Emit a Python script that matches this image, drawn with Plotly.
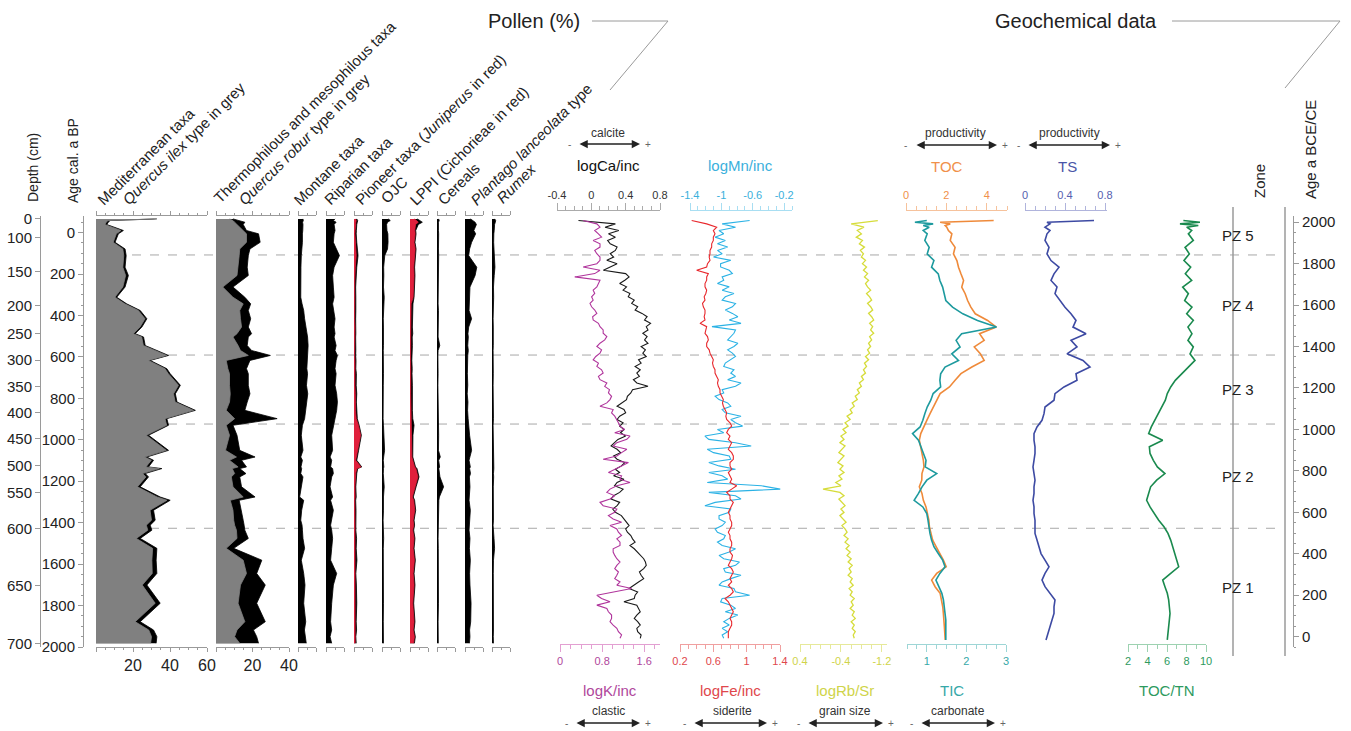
import plotly.graph_objects as go

W, H = 1351, 731
FONT = "Liberation Sans, Arial, Helvetica, sans-serif"

# ---------------- data ----------------
depth_cm = [0, 100, 150, 200, 250, 300, 350, 400, 450, 500, 550, 600, 650, 700]
depth_age_bp = [-66, 23, 189, 354, 489, 615, 744, 868, 993, 1125, 1254, 1430, 1704, 1982]
age_bce_ce_ticks = [0, 200, 400, 600, 800, 1000, 1200, 1400, 1600, 1800, 2000]

zone_names = ["PZ 5", "PZ 4", "PZ 3", "PZ 2", "PZ 1"]
zone_bounds_bp = [108, 591, 924, 1427]

pollen_age = [-66, -58, -50, -39, -10, 6, 47, 79, 111, 167,
              207, 263, 312, 344, 376, 416, 456, 488, 504, 545,
              569, 593, 617, 657, 681, 737, 778, 818, 858, 898,
              930, 978, 1051, 1083, 1099, 1131, 1139, 1163, 1179, 1227,
              1276, 1292, 1340, 1388, 1412, 1436, 1476, 1524, 1581, 1645,
              1701, 1789, 1878, 1918, 1950, 1982]

med_total = [32.9, 7.6, 6.7, 5.8, 14.8, 12.1, 10.3, 15.7, 16.3, 15.7,
             17.5, 15.7, 11.2, 16.6, 23.9, 27.5, 24.8, 21.2, 25.7, 26.6,
             32.9, 39.2, 29.3, 38.3, 40.1, 45.6, 42.9, 43.8, 53.7, 38.3,
             39.2, 28.4, 39.2, 27.5, 31.1, 28.4, 35.6, 26.6, 28.4, 23.9,
             34.7, 40.1, 31.1, 32.0, 29.3, 30.2, 23.9, 32.9, 32.5, 32.9,
             27.5, 34.7, 23.9, 31.1, 32.9, 32.5]
med_quercus_ilex = [31.5, 6.5, 5.5, 4.8, 13.5, 11.0, 9.3, 14.5, 15.0, 14.5,
                    16.0, 14.5, 10.2, 15.6, 22.9, 26.5, 23.8, 20.2, 24.7, 25.6,
                    31.9, 38.2, 28.3, 37.3, 39.1, 44.6, 41.9, 42.8, 52.7, 37.3,
                    38.2, 27.2, 38.0, 26.3, 29.9, 27.0, 34.2, 25.2, 27.0, 22.4,
                    33.0, 38.4, 29.2, 30.0, 27.2, 28.0, 21.8, 30.6, 30.2, 30.4,
                    25.0, 32.0, 21.2, 28.5, 30.0, 29.5]
thermo_total = [9.3, 12.1, 15.8, 14.9, 16.7, 23.3, 24.2, 18.6, 17.7, 17.1,
                17.7, 9.3, 15.8, 19.0, 17.7, 19.0, 17.7, 19.5, 17.7, 17.1,
                19.5, 29.8, 18.6, 16.7, 17.7, 17.7, 18.6, 17.1, 15.8, 33.5,
                9.3, 11.5, 13.0, 21.4, 14.0, 16.7, 13.0, 16.4, 13.0, 14.0,
                21.4, 12.7, 14.0, 14.9, 15.4, 15.8, 17.7, 9.7, 25.1, 22.3,
                27.0, 22.3, 27.0, 20.5, 22.3, 23.3]
thermo_quercus_robur = [7.4, 9.3, 10.2, 11.5, 14.9, 16.7, 16.7, 13.0, 12.7, 12.1,
                        11.5, 3.7, 9.3, 14.9, 13.0, 13.4, 14.0, 11.5, 9.3, 12.1,
                        13.4, 17.7, 5.6, 6.5, 7.4, 7.4, 7.8, 7.4, 5.6, 10.2,
                        5.6, 7.4, 5.2, 11.2, 7.4, 12.1, 8.9, 10.2, 8.4, 9.3,
                        14.9, 7.8, 9.3, 9.7, 10.2, 11.2, 11.5, 5.6, 14.9, 16.7,
                        13.4, 12.1, 15.8, 11.5, 10.2, 13.0]
montane = [2.7, 2.9, 2.5, 2.7, 2.6, 2.4, 2.4, 2.0, 1.8, 1.6,
           1.5, 1.6, 1.5, 2.2, 3.1, 3.6, 4.5, 4.9, 5.2, 5.5,
           5.3, 5.5, 4.9, 4.8, 5.2, 4.6, 5.3, 4.8, 4.4, 3.6,
           2.4, 1.8, 2.7, 1.5, 2.4, 1.6, 2.0, 1.5, 2.7, 1.8,
           0.9, 3.1, 2.0, 1.5, 2.2, 2.4, 2.7, 3.6, 1.8, 3.1,
           3.8, 3.1, 4.2, 3.5, 4.2, 4.5]
riparian = [4.9, 4.0, 5.5, 4.4, 4.9, 4.4, 4.0, 5.8, 7.3, 4.4,
            3.6, 4.0, 4.4, 3.6, 4.0, 4.9, 4.4, 4.9, 4.4, 5.5,
            4.9, 6.2, 5.5, 4.9, 5.5, 4.9, 5.8, 6.2, 5.8, 4.9,
            4.0, 3.1, 3.6, 2.2, 3.1, 2.5, 3.6, 4.0, 3.1, 2.2,
            3.6, 2.5, 4.0, 3.1, 2.5, 3.1, 3.6, 3.1, 2.5, 5.8,
            4.0, 3.1, 2.5, 3.1, 2.2, 3.1]
pioneer_total = [1.5, 2.0, 1.8, 1.5, 1.3, 1.2, 1.5, 1.8, 2.2, 1.5,
                 1.2, 0.9, 1.0, 0.8, 1.0, 0.9, 1.1, 1.0, 0.9, 1.2,
                 1.0, 0.9, 1.1, 1.0, 1.3, 1.2, 1.5, 1.3, 1.6, 1.8,
                 2.8, 4.0, 2.5, 1.8, 1.5, 4.2, 2.0, 1.5, 1.3, 1.0,
                 1.2, 0.9, 1.1, 1.0, 1.2, 1.0, 1.4, 1.2, 1.6, 1.0,
                 1.3, 1.5, 1.2, 1.4, 1.0, 1.2]
pioneer_juniperus = [0.8, 1.2, 1.0, 0.8, 0.6, 0.5, 0.7, 0.9, 1.2, 0.7,
                     0.5, 0.3, 0.4, 0.3, 0.4, 0.3, 0.5, 0.4, 0.3, 0.5,
                     0.4, 0.3, 0.5, 0.4, 0.6, 0.5, 0.7, 0.6, 0.8, 1.2,
                     2.4, 3.6, 2.1, 1.3, 0.9, 3.8, 1.5, 0.9, 0.7, 0.5,
                     0.6, 0.4, 0.5, 0.5, 0.6, 0.5, 0.7, 0.6, 0.9, 0.5,
                     0.7, 0.8, 0.6, 0.7, 0.5, 0.6]
ojc = [3.5, 4.5, 3.0, 2.5, 2.7, 3.2, 3.3, 3.0, 1.5, 0.9,
       1.0, 0.8, 1.2, 1.0, 0.8, 0.7, 0.8, 0.9, 0.7, 0.8,
       0.7, 0.8, 0.6, 0.7, 0.8, 0.7, 0.6, 0.8, 0.7, 0.6,
       0.8, 1.0, 1.4, 0.9, 0.7, 1.0, 0.8, 0.7, 0.9, 1.2,
       0.8, 0.7, 0.8, 0.6, 0.7, 0.8, 0.9, 0.7, 0.8, 0.7,
       0.9, 0.8, 0.7, 0.6, 0.7, 0.8]
lppi_total = [4.0, 5.5, 6.7, 4.5, 3.1, 3.3, 2.7, 3.3, 2.9, 2.5,
              2.7, 2.4, 2.2, 1.6, 1.4, 1.2, 1.3, 1.5, 1.2, 1.3,
              1.1, 1.2, 1.0, 1.2, 1.1, 1.3, 1.2, 1.4, 1.3, 1.5,
              2.2, 1.6, 1.8, 1.5, 2.0, 3.0, 3.8, 4.5, 4.9, 3.3,
              1.8, 2.5, 3.1, 2.2, 2.5, 2.0, 2.7, 2.2, 2.9, 2.2,
              2.7, 2.0, 2.7, 2.2, 2.9, 2.4]
lppi_cichorieae = [2.5, 3.5, 4.5, 3.0, 2.6, 2.8, 2.2, 2.8, 2.4, 2.0,
                   2.2, 1.9, 1.7, 0.6, 0.5, 0.4, 0.4, 0.5, 0.4, 0.4,
                   0.3, 0.4, 0.3, 0.4, 0.3, 0.4, 0.4, 0.5, 0.4, 0.5,
                   0.8, 0.8, 1.2, 1.0, 1.5, 2.5, 3.2, 3.9, 4.3, 2.8,
                   1.3, 2.0, 2.6, 1.7, 2.0, 1.5, 2.2, 1.7, 2.4, 1.7,
                   2.2, 1.5, 2.2, 1.7, 2.4, 1.9]
cereals = [0.9, 1.2, 0.8, 0.7, 0.8, 0.9, 0.7, 0.8, 0.9, 0.8,
           0.7, 0.6, 0.7, 0.6, 0.8, 0.7, 0.6, 0.7, 0.6, 1.5,
           0.6, 0.5, 0.6, 0.5, 0.6, 0.5, 0.6, 0.7, 0.6, 0.8,
           0.7, 0.9, 0.8, 1.8, 0.9, 1.4, 1.0, 1.2, 1.6, 3.6,
           1.3, 1.0, 0.8, 0.7, 0.8, 0.7, 0.6, 0.7, 0.8, 0.6,
           0.7, 0.8, 0.6, 0.7, 0.6, 0.7]
plantago = [3.0, 4.5, 5.5, 6.2, 4.8, 5.8, 3.6, 2.5, 2.0, 6.4,
            5.5, 2.7, 2.5, 2.0, 2.2, 3.6, 2.0, 1.6, 1.8, 1.5,
            1.8, 1.5, 1.4, 1.6, 1.3, 1.5, 1.2, 1.6, 1.4, 1.7,
            2.0, 2.5, 3.6, 2.9, 2.2, 2.9, 2.5, 3.0, 2.4, 2.7,
            2.5, 2.2, 2.9, 2.4, 2.5, 2.2, 2.7, 2.4, 2.9, 2.5,
            2.7, 3.3, 3.1, 2.5, 2.7, 2.4]
rumex = [1.5, 2.0, 1.8, 1.4, 1.2, 1.0, 0.9, 1.1, 0.9, 1.6,
         1.2, 0.8, 0.9, 0.7, 0.8, 0.6, 0.7, 0.8, 0.6, 0.7,
         0.6, 0.7, 0.8, 0.6, 0.7, 0.6, 0.7, 0.6, 0.7, 0.8,
         0.6, 0.7, 1.1, 0.9, 0.8, 0.9, 1.0, 0.8, 0.9, 0.7,
         0.8, 0.9, 0.7, 0.8, 0.6, 0.9, 1.1, 1.4, 0.8, 0.7,
         0.8, 0.9, 0.7, 0.8, 0.7, 0.8]

xrf_age = [-58, -42, -26, -10, 6, 22, 38, 54, 70, 86,
           102, 118, 134, 150, 166, 182, 198, 214, 230, 246,
           262, 278, 294, 310, 326, 342, 358, 374, 390, 406,
           422, 438, 454, 470, 486, 502, 518, 534, 550, 566,
           582, 598, 614, 630, 646, 662, 678, 694, 710, 726,
           742, 758, 774, 790, 806, 822, 838, 854, 870, 886,
           902, 918, 934, 950, 966, 982, 998, 1014, 1030, 1046,
           1062, 1078, 1094, 1110, 1126, 1142, 1158, 1174, 1190, 1206,
           1222, 1238, 1254, 1270, 1286, 1302, 1318, 1334, 1350, 1366,
           1382, 1398, 1414, 1430, 1446, 1462, 1478, 1494, 1510, 1526,
           1542, 1558, 1574, 1590, 1606, 1622, 1638, 1654, 1670, 1686,
           1702, 1718, 1734, 1750, 1766, 1782, 1798, 1814, 1830, 1846,
           1862, 1878, 1894, 1910, 1926, 1942, 1958]
log_ca_inc = [-0.15, 0.28, 0.16, 0.32, 0.20, 0.28, 0.19, 0.22, 0.30, 0.28,
              0.22, 0.26, 0.18, 0.30, 0.22, 0.14, 0.40, 0.44, 0.39, 0.33,
              0.41, 0.37, 0.45, 0.43, 0.50, 0.47, 0.54, 0.51, 0.59, 0.65,
              0.62, 0.69, 0.64, 0.66, 0.60, 0.65, 0.62, 0.66, 0.58, 0.63,
              0.60, 0.64, 0.55, 0.58, 0.51, 0.57, 0.53, 0.56, 0.49, 0.53,
              0.66, 0.48, 0.46, 0.42, 0.41, 0.35, 0.30, 0.38, 0.40, 0.33,
              0.30, 0.37, 0.33, 0.38, 0.34, 0.40, 0.31, 0.27, 0.23, 0.30,
              0.34, 0.26, 0.30, 0.39, 0.35, 0.28, 0.33, 0.26, 0.38, 0.30,
              0.27, 0.37, 0.33, 0.26, 0.23, 0.33, 0.30, 0.25, 0.28, 0.35,
              0.38, 0.41, 0.44, 0.40, 0.42, 0.46, 0.48, 0.51, 0.45, 0.50,
              0.54, 0.58, 0.61, 0.63, 0.64, 0.61, 0.56, 0.58, 0.61, 0.55,
              0.50, 0.44, 0.54, 0.51, 0.50, 0.38, 0.53, 0.55, 0.57, 0.53,
              0.50, 0.54, 0.57, 0.53, 0.54, 0.58, 0.57]
log_k_inc = [0.44, 0.70, 0.76, 0.66, 0.73, 0.79, 0.63, 0.76, 0.76, 0.66,
             0.70, 0.76, 0.76, 0.70, 0.44, 0.76, 0.66, 0.28, 0.76, 0.73,
             0.70, 0.63, 0.66, 0.60, 0.63, 0.57, 0.60, 0.66, 0.70, 0.62,
             0.63, 0.73, 0.76, 0.82, 0.82, 0.89, 0.85, 0.76, 0.70, 0.79,
             0.76, 0.68, 0.63, 0.73, 0.70, 0.79, 0.82, 0.73, 0.76, 0.89,
             0.85, 0.94, 0.92, 0.98, 0.95, 0.89, 0.76, 1.01, 0.98, 1.04,
             1.08, 1.11, 1.14, 1.23, 1.04, 1.33, 1.27, 1.08, 1.01, 1.27,
             1.17, 1.08, 0.82, 1.30, 1.17, 1.04, 0.92, 1.17, 1.14, 1.33,
             1.08, 0.95, 0.89, 1.04, 0.95, 0.76, 0.82, 1.08, 1.04, 0.92,
             1.01, 1.17, 0.95, 1.08, 1.11, 1.17, 1.08, 1.14, 1.14, 1.01,
             1.01, 1.04, 1.08, 1.14, 1.08, 1.04, 1.11, 1.08, 1.04, 1.14,
             1.08, 1.36, 1.01, 0.70, 0.79, 0.95, 0.70, 0.89, 0.92, 0.98,
             0.98, 0.95, 1.01, 1.08, 1.11, 1.17, 1.14]
log_mn_inc = [-0.64, -0.99, -0.82, -1.03, -0.97, -1.08, -0.95, -1.05, -0.92, -1.05,
              -0.99, -1.10, -0.88, -1.01, -1.01, -0.90, -0.86, -0.99, -0.97, -1.05,
              -0.90, -0.99, -0.84, -0.95, -0.99, -0.82, -0.86, -0.95, -0.86, -0.79,
              -0.90, -0.75, -1.12, -0.82, -0.84, -0.88, -0.92, -0.79, -0.84, -0.92,
              -0.86, -0.82, -0.88, -0.95, -0.97, -0.84, -0.88, -0.82, -0.92, -0.75,
              -0.82, -0.99, -0.97, -1.08, -1.03, -0.92, -0.88, -0.99, -0.95, -0.75,
              -0.88, -0.82, -0.73, -1.05, -0.97, -1.21, -1.16, -0.82, -0.62, -1.18,
              -1.10, -0.90, -0.88, -1.16, -1.03, -0.82, -1.16, -0.99, -0.92, -1.18,
              -0.49, -0.25, -1.16, -0.82, -0.75, -1.08, -1.21, -0.88, -0.90, -1.03,
              -1.03, -0.95, -0.99, -1.08, -1.05, -0.95, -0.97, -1.05, -0.99, -0.82,
              -0.90, -1.03, -0.97, -0.77, -0.82, -0.97, -0.95, -0.75, -0.88, -0.99,
              -1.03, -0.84, -0.82, -0.64, -0.99, -1.01, -0.88, -0.82, -0.95, -0.79,
              -0.90, -0.97, -0.90, -0.99, -0.92, -0.99, -0.97]
log_fe_inc = [0.34, 0.52, 0.64, 0.60, 0.62, 0.60, 0.60, 0.58, 0.58, 0.56,
              0.56, 0.55, 0.56, 0.53, 0.52, 0.40, 0.54, 0.52, 0.52, 0.50,
              0.50, 0.52, 0.51, 0.49, 0.50, 0.47, 0.48, 0.50, 0.50, 0.49,
              0.50, 0.44, 0.52, 0.51, 0.50, 0.53, 0.54, 0.52, 0.52, 0.55,
              0.56, 0.58, 0.60, 0.59, 0.60, 0.62, 0.62, 0.64, 0.66, 0.65,
              0.66, 0.68, 0.68, 0.70, 0.72, 0.71, 0.72, 0.74, 0.76, 0.75,
              0.76, 0.80, 0.82, 0.78, 0.76, 0.80, 0.78, 0.82, 0.80, 0.78,
              0.82, 0.84, 0.84, 0.80, 0.80, 0.82, 0.78, 0.80, 0.82, 0.80,
              0.88, 0.82, 0.76, 0.80, 0.80, 0.84, 0.82, 0.80, 0.78, 0.80,
              0.80, 0.82, 0.82, 0.80, 0.78, 0.80, 0.80, 0.82, 0.82, 0.80,
              0.80, 0.83, 0.82, 0.80, 0.78, 0.82, 0.84, 0.82, 0.80, 0.82,
              0.78, 0.82, 0.84, 0.80, 0.74, 0.78, 0.80, 0.83, 0.84, 0.82,
              0.80, 0.82, 0.82, 0.80, 0.78, 0.78, 0.78]
log_rb_sr = [-1.12, -0.60, -0.85, -0.72, -0.80, -0.70, -0.82, -0.76, -0.86, -0.78,
             -0.84, -0.80, -0.88, -0.82, -0.90, -0.84, -0.92, -0.86, -0.94, -0.88,
             -0.92, -0.98, -0.90, -0.96, -1.00, -0.92, -0.98, -1.02, -0.94, -1.00,
             -1.04, -0.96, -1.02, -0.98, -1.04, -0.96, -1.00, -0.94, -0.98, -0.92,
             -0.96, -0.88, -0.94, -0.86, -0.90, -0.84, -0.88, -0.80, -0.84, -0.76,
             -0.80, -0.72, -0.76, -0.68, -0.72, -0.62, -0.66, -0.58, -0.62, -0.52,
             -0.58, -0.48, -0.54, -0.44, -0.50, -0.40, -0.46, -0.38, -0.48, -0.42,
             -0.36, -0.46, -0.40, -0.34, -0.44, -0.38, -0.46, -0.36, -0.42, -0.30,
             -0.40, -0.05, -0.38, -0.46, -0.36, -0.42, -0.48, -0.40, -0.46, -0.38,
             -0.44, -0.50, -0.42, -0.48, -0.52, -0.46, -0.54, -0.48, -0.56, -0.50,
             -0.58, -0.52, -0.60, -0.54, -0.62, -0.56, -0.60, -0.54, -0.62, -0.58,
             -0.64, -0.56, -0.62, -0.58, -0.66, -0.60, -0.64, -0.58, -0.66, -0.62,
             -0.68, -0.60, -0.66, -0.62, -0.68, -0.64, -0.66]

bulk_age = [-58, -50, -42, -34, -26, -10, 6, 38, 71, 103,
            135, 167, 199, 231, 263, 295, 328, 360, 392, 424,
            456, 488, 520, 552, 585, 617, 649, 681, 713, 745,
            777, 809, 842, 874, 906, 938, 970, 1002, 1034, 1066,
            1099, 1131, 1163, 1195, 1227, 1259, 1292, 1324, 1356, 1388,
            1420, 1452, 1484, 1516, 1549, 1581, 1613, 1645, 1677, 1709,
            1741, 1773, 1806, 1838, 1870, 1902, 1934, 1966]
toc = [4.34, 1.69, 2.19, 1.94, 2.02, 2.10, 2.27, 2.19, 2.43, 2.35,
       2.52, 2.60, 2.72, 2.85, 2.76, 2.93, 3.05, 3.21, 3.43, 4.04,
       4.47, 3.64, 3.87, 3.38, 3.68, 3.87, 3.26, 2.72, 2.43, 2.15,
       1.69, 1.52, 1.32, 1.19, 1.03, 0.86, 0.73, 0.66, 0.73, 0.79,
       0.86, 0.89, 0.79, 0.78, 0.66, 0.79, 0.86, 0.99, 1.06, 1.13,
       1.16, 1.23, 1.32, 1.49, 1.69, 1.85, 1.99, 1.52, 1.27, 1.44,
       1.69, 1.77, 1.82, 1.85, 1.89, 1.90, 1.92, 1.94]
tic = [1.00, 0.70, 1.16, 0.91, 1.06, 0.91, 1.01, 0.95, 1.06, 1.01,
       1.18, 1.12, 1.29, 1.33, 1.40, 1.43, 1.48, 1.65, 1.91, 2.28,
       2.76, 1.88, 1.74, 1.84, 1.63, 1.80, 1.46, 1.35, 1.33, 1.35,
       1.16, 1.10, 1.01, 0.95, 0.90, 0.83, 0.64, 0.79, 0.85, 0.91,
       0.98, 0.96, 1.25, 1.00, 0.88, 0.79, 0.68, 0.90, 1.00, 1.03,
       1.05, 1.08, 1.12, 1.18, 1.29, 1.40, 1.46, 1.33, 1.23, 1.30,
       1.38, 1.42, 1.44, 1.46, 1.48, 1.48, 1.48, 1.48]
ts = [0.69, 0.22, 0.25, 0.22, 0.20, 0.25, 0.22, 0.20, 0.24, 0.22,
      0.26, 0.34, 0.29, 0.26, 0.32, 0.30, 0.35, 0.40, 0.46, 0.51,
      0.48, 0.61, 0.46, 0.52, 0.42, 0.58, 0.65, 0.51, 0.52, 0.39,
      0.30, 0.29, 0.20, 0.19, 0.17, 0.12, 0.09, 0.09, 0.10, 0.10,
      0.09, 0.08, 0.09, 0.10, 0.09, 0.09, 0.08, 0.09, 0.09, 0.10,
      0.10, 0.10, 0.12, 0.14, 0.16, 0.20, 0.24, 0.20, 0.17, 0.20,
      0.25, 0.30, 0.29, 0.29, 0.27, 0.25, 0.23, 0.21]
toc_tn = [7.68, 9.38, 7.33, 9.21, 8.02, 8.53, 8.19, 8.70, 7.85, 8.29,
          7.74, 8.43, 7.88, 8.53, 7.61, 8.19, 7.81, 8.56, 8.02, 8.70,
          8.15, 8.56, 8.15, 8.70, 8.36, 8.87, 8.19, 7.54, 6.85, 6.38,
          6.03, 5.83, 5.45, 5.15, 4.80, 4.39, 4.12, 5.56, 4.19, 4.26,
          4.60, 5.01, 5.79, 4.94, 4.32, 4.12, 3.91, 4.26, 4.67, 5.15,
          5.69, 6.10, 6.38, 6.58, 6.79, 6.99, 7.20, 6.38, 5.56, 5.79,
          6.03, 6.17, 6.24, 6.31, 6.24, 6.17, 6.10, 6.03]

# ---------------- helpers ----------------
def fx(p):
    return p / W


def fy(p):
    return 1 - p / H


AGE_RANGE = [2000, -80]
Y_TOP, Y_BOT = 216, 647

fig = go.Figure()
lay = {}


def axname(i):
    return "x" if i == 1 else f"x{i}"


def axkey(i):
    return "xaxis" if i == 1 else f"xaxis{i}"


# ---------------- pollen panels ----------------
BLACK, GREY, RED = "#000000", "#808080", "#e0203c"
pollen_panels = [
    (1, 96, 111, 60, [0, 20, 40, 60], ["", "20", "40", "60"], [(med_total, BLACK), (med_quercus_ilex, GREY)]),
    (2, 216, 73, 40, [0, 20, 40], ["", "20", "40"], [(thermo_total, BLACK), (thermo_quercus_robur, GREY)]),
    (3, 298, 18.4, 10, [0, 10], ["", ""], [(montane, BLACK)]),
    (4, 326, 18.4, 10, [0, 10], ["", ""], [(riparian, BLACK)]),
    (5, 354, 18.4, 10, [0, 10], ["", ""], [(pioneer_total, BLACK), (pioneer_juniperus, RED)]),
    (6, 382, 18.4, 10, [0, 10], ["", ""], [(ojc, BLACK)]),
    (7, 410, 18.4, 10, [0, 10], ["", ""], [(lppi_total, BLACK), (lppi_cichorieae, RED)]),
    (8, 437, 18.4, 10, [0, 10], ["", ""], [(cereals, BLACK)]),
    (9, 465, 18.4, 10, [0, 10], ["", ""], [(plantago, BLACK)]),
    (10, 492, 18.4, 10, [0, 10], ["", ""], [(rumex, BLACK)]),
]
for idx, left, width, xmax, tv, tt, series in pollen_panels:
    lay[axkey(idx)] = dict(
        domain=[fx(left), fx(left + width)], range=[0, xmax], anchor="y", side="bottom",
        showline=True, linecolor="#9a9a9a", linewidth=1, mirror="ticks",
        ticks="outside", ticklen=4, tickcolor="#9a9a9a", tickvals=tv, ticktext=tt,
        tickfont=dict(size=16, color="#222", family=FONT),
        minor=dict(dtick=5, ticklen=2, ticks="outside", tickcolor="#9a9a9a"),
        showgrid=False, zeroline=False, fixedrange=True, automargin=False,
    )
    for vals, col in series:
        fig.add_trace(go.Scatter(
            x=vals, y=pollen_age, xaxis=axname(idx), yaxis="y", mode="lines",
            fill="tozerox", fillcolor=col, line=dict(color=col, width=0.8),
            hoverinfo="skip", showlegend=False))

# ---------------- geochemical panels ----------------
geo_axes = [
    (11, 557, 660, [-0.4, 0.8], [-0.4, 0, 0.4, 0.8], ["-0.4", "0", "0.4", "0.8"], "top", 0.1, "#ababab", "#333333"),
    (12, 560, 660, [0, 1.9], [0, 0.8, 1.6], ["0", "0.8", "1.6"], "bottom", 0.2, "#e3a0d2", "#b0479c"),
    (13, 690, 792, [-1.4, -0.1], [-1.4, -1, -0.6, -0.2], ["-1.4", "-1", "-0.6", "-0.2"], "top", 0.1, "#a8def2", "#3bb0dc"),
    (14, 680, 780, [0.2, 1.4], [0.2, 0.6, 1, 1.4], ["0.2", "0.6", "1", "1.4"], "bottom", 0.1, "#f0a0a0", "#e0474c"),
    (15, 800, 887, [0.4, -1.3], [0.4, -0.4, -1.2], ["0.4", "-0.4", "-1.2"], "bottom", 0.2, "#e6e99a", "#cfd44a"),
    (16, 906, 1007, [0, 5], [0, 2, 4], ["0", "2", "4"], "top", 0.5, "#f6c29c", "#f0904a"),
    (17, 907, 1006, [0.5, 3], [1, 2, 3], ["1", "2", "3"], "bottom", 0.25, "#9ed6d6", "#36a8a8"),
    (18, 1025, 1107, [0, 0.82], [0, 0.4, 0.8], ["0", "0.4", "0.8"], "top", 0.1, "#b0b4dc", "#5560b0"),
    (19, 1128, 1206, [2, 10], [2, 4, 6, 8, 10], ["2", "4", "6", "8", "10"], "bottom", 1, "#9dd2b1", "#2e9a5e"),
]
for idx, x0, x1, rng, tv, tt, side, mdt, lc, fc in geo_axes:
    lay[axkey(idx)] = dict(
        domain=[fx(x0), fx(x1)], range=rng, anchor="free",
        position=fy(210) if side == "top" else fy(644), side=side,
        showline=True, linecolor=lc, linewidth=1, ticks="outside", ticklen=7, tickcolor=lc,
        tickvals=tv, ticktext=tt, tickfont=dict(size=11, color=fc, family=FONT),
        minor=dict(dtick=mdt, ticklen=4, ticks="outside", tickcolor=lc),
        showgrid=False, zeroline=False, fixedrange=True, automargin=False,
    )

geo_traces = [
    (12, log_k_inc, xrf_age, "#b0359c", 1.1),
    (11, log_ca_inc, xrf_age, "#1a1a1a", 1.1),
    (13, log_mn_inc, xrf_age, "#2bb2e5", 1.1),
    (14, log_fe_inc, xrf_age, "#e8282d", 1.1),
    (15, log_rb_sr, xrf_age, "#d6dc3a", 1.3),
    (17, tic, bulk_age, "#1d9a9e", 1.6),
    (16, toc, bulk_age, "#ef8a3a", 1.6),
    (18, ts, bulk_age, "#3d4aa3", 1.6),
    (19, toc_tn, bulk_age, "#1a8a4e", 1.6),
]
for idx, vals, ages, col, lw in geo_traces:
    fig.add_trace(go.Scatter(
        x=vals, y=ages, xaxis=axname(idx), yaxis="y", mode="lines",
        line=dict(color=col, width=lw), hoverinfo="skip", showlegend=False))

# invisible carriers for the extra vertical axes
fig.add_trace(go.Scatter(x=[0] * len(depth_age_bp), y=depth_age_bp, xaxis="x", yaxis="y2",
                         mode="markers", marker=dict(opacity=0), hoverinfo="skip", showlegend=False))
fig.add_trace(go.Scatter(x=[0] * len(age_bce_ce_ticks), y=age_bce_ce_ticks, xaxis="x", yaxis="y3",
                         mode="markers", marker=dict(opacity=0), hoverinfo="skip", showlegend=False))

# ---------------- vertical axes ----------------
lay["yaxis"] = dict(
    domain=[fy(Y_BOT), fy(Y_TOP)], range=AGE_RANGE, anchor="free", position=fx(83), side="left",
    showline=True, linecolor="#9a9a9a", ticks="outside", ticklen=5, tickcolor="#9a9a9a",
    tick0=0, dtick=200, tickfont=dict(size=15, color="#222", family=FONT),
    minor=dict(dtick=50, ticklen=2, ticks="outside", tickcolor="#9a9a9a"),
    showgrid=False, zeroline=False, fixedrange=True, automargin=False,
)
lay["yaxis2"] = dict(
    overlaying="y", range=AGE_RANGE, anchor="free", position=fx(40), side="left",
    showline=True, linecolor="#9a9a9a", ticks="outside", ticklen=5, tickcolor="#9a9a9a",
    tickvals=depth_age_bp, ticktext=[str(d) for d in depth_cm],
    tickfont=dict(size=15, color="#222", family=FONT),
    showgrid=False, zeroline=False, fixedrange=True, automargin=False,
)
lay["yaxis3"] = dict(
    overlaying="y", range=[1950 - AGE_RANGE[0], 1950 - AGE_RANGE[1]], anchor="free", position=fx(1293),
    side="right", showline=True, linecolor="#9a9a9a", ticks="outside", ticklen=5, tickcolor="#9a9a9a",
    tickvals=age_bce_ce_ticks, tickfont=dict(size=15, color="#222", family=FONT),
    minor=dict(dtick=50, ticklen=2, ticks="outside", tickcolor="#9a9a9a"),
    showgrid=False, zeroline=False, fixedrange=True, automargin=False,
)

# ---------------- annotations ----------------
ann = []


def text(t, x, y, size=14, color="#222", angle=0, xa="center", ya="middle"):
    ann.append(dict(text=t, x=fx(x), y=fy(y), xref="paper", yref="paper", showarrow=False,
                    font=dict(size=size, color=color, family=FONT), textangle=angle,
                    xanchor=xa, yanchor=ya))


pollen_titles = [
    ("Mediterranean taxa", 100, 205),
    ("<i>Quercus ilex</i> type in grey", 125, 205),
    ("Thermophilous and mesophilous taxa", 217, 203),
    ("<i>Quercus robur</i> type in grey", 241, 205),
    ("Montane taxa", 297, 205),
    ("Riparian taxa", 327, 205),
    ("Pioneer taxa (<i>Juniperus</i> in red)", 358, 205),
    ("OJC", 384, 203),
    ("LPPI (Cichorieae in red)", 413, 205),
    ("Cereals", 441, 205),
    ("<i>Plantago lanceolata</i> type", 473, 205),
    ("<i>Rumex</i>", 499, 203),
]
for t, xs, ys in pollen_titles:
    text(t, xs - 9, ys + 6, size=15, angle=-45, xa="left", ya="bottom")

text("Depth (cm)", 33, 168, size=14, angle=-90)
text("Age cal. a BP", 73, 161, size=14, angle=-90)
text("Zone", 1259, 181, size=15, angle=-90)
text("Age a BCE/CE", 1310, 150, size=15, angle=-90)
text("Pollen (%)", 534, 21, size=20)
text("Geochemical data", 1076, 21, size=20)

for t, x, y, c in [("logCa/inc", 608, 165, "#111111"), ("logMn/inc", 740, 165, "#3bb0dc"),
                   ("TOC", 947, 166, "#f0904a"), ("TS", 1067, 166, "#4a55a8"),
                   ("logK/inc", 610, 690, "#b0479c"), ("logFe/inc", 730, 690, "#e0474c"),
                   ("logRb/Sr", 845, 690, "#cfd44a"), ("TIC", 952, 690, "#36a8a8"),
                   ("TOC/TN", 1167, 690, "#2e9a5e")]:
    text(t, x, y, size=15, color=c)

arrow_groups = [
    ("calcite", 608, 133, 578, 640, 144),
    ("productivity", 955, 133, 915, 997, 145),
    ("productivity", 1069, 133, 1027, 1110, 145),
    ("clastic", 608, 711, 575, 640, 723),
    ("siderite", 732, 711, 693, 767, 723),
    ("grain size", 845, 711, 807, 883, 723),
    ("carbonate", 958, 711, 920, 995, 723),
]
for t, tx, ty, a0, a1, ay in arrow_groups:
    text(t, tx, ty, size=12, color="#333")
    ann.append(dict(x=fx(a1), y=fy(ay), xref="paper", yref="paper", ax=-(a1 - a0), ay=0,
                    axref="pixel", ayref="pixel", showarrow=True, arrowhead=2, arrowside="end+start",
                    arrowsize=1.1, arrowwidth=1.5, arrowcolor="#222", text=""))
    text("-", a0 - 9, ay, size=10, color="#666")
    text("+", a1 + 8, ay, size=10, color="#666")

zone_edges = [AGE_RANGE[1]] + zone_bounds_bp + [AGE_RANGE[0]]
for i, name in enumerate(zone_names):
    mid = (zone_edges[i] + zone_edges[i + 1]) / 2
    ann.append(dict(text=name, x=fx(1256), y=mid, xref="paper", yref="y", showarrow=False,
                    font=dict(size=15, color="#222", family=FONT)))

# ---------------- shapes ----------------
shapes = []
for b in zone_bounds_bp:
    shapes.append(dict(type="line", xref="paper", yref="y", x0=fx(96), x1=fx(1283), y0=b, y1=b,
                       line=dict(color="#a8a8a8", width=1, dash="dash"), layer="below"))
for xv in (1233, 1285):
    shapes.append(dict(type="line", xref="paper", yref="paper", x0=fx(xv), x1=fx(xv),
                       y0=fy(207), y1=fy(656), line=dict(color="#9a9a9a", width=1.5)))
for (xa, ya, xb, yb) in [(592, 21, 668, 21), (668, 21, 610, 90),
                         (1172, 21, 1340, 21), (1340, 21, 1285, 88)]:
    shapes.append(dict(type="line", xref="paper", yref="paper", x0=fx(xa), y0=fy(ya),
                       x1=fx(xb), y1=fy(yb), line=dict(color="#9a9a9a", width=1)))

fig.update_layout(
    width=W, height=H, autosize=False, margin=dict(l=0, r=0, t=0, b=0, pad=0),
    paper_bgcolor="white", plot_bgcolor="rgba(0,0,0,0)", showlegend=False,
    font=dict(family=FONT, color="#222"), annotations=ann, shapes=shapes, **lay,
)
fig.write_html(
    "out.html",
    config={"displayModeBar": False, "staticPlot": True},
    post_script="document.body.style.margin='0';document.body.style.padding='0';"
                "document.documentElement.style.overflow='hidden';",
)
